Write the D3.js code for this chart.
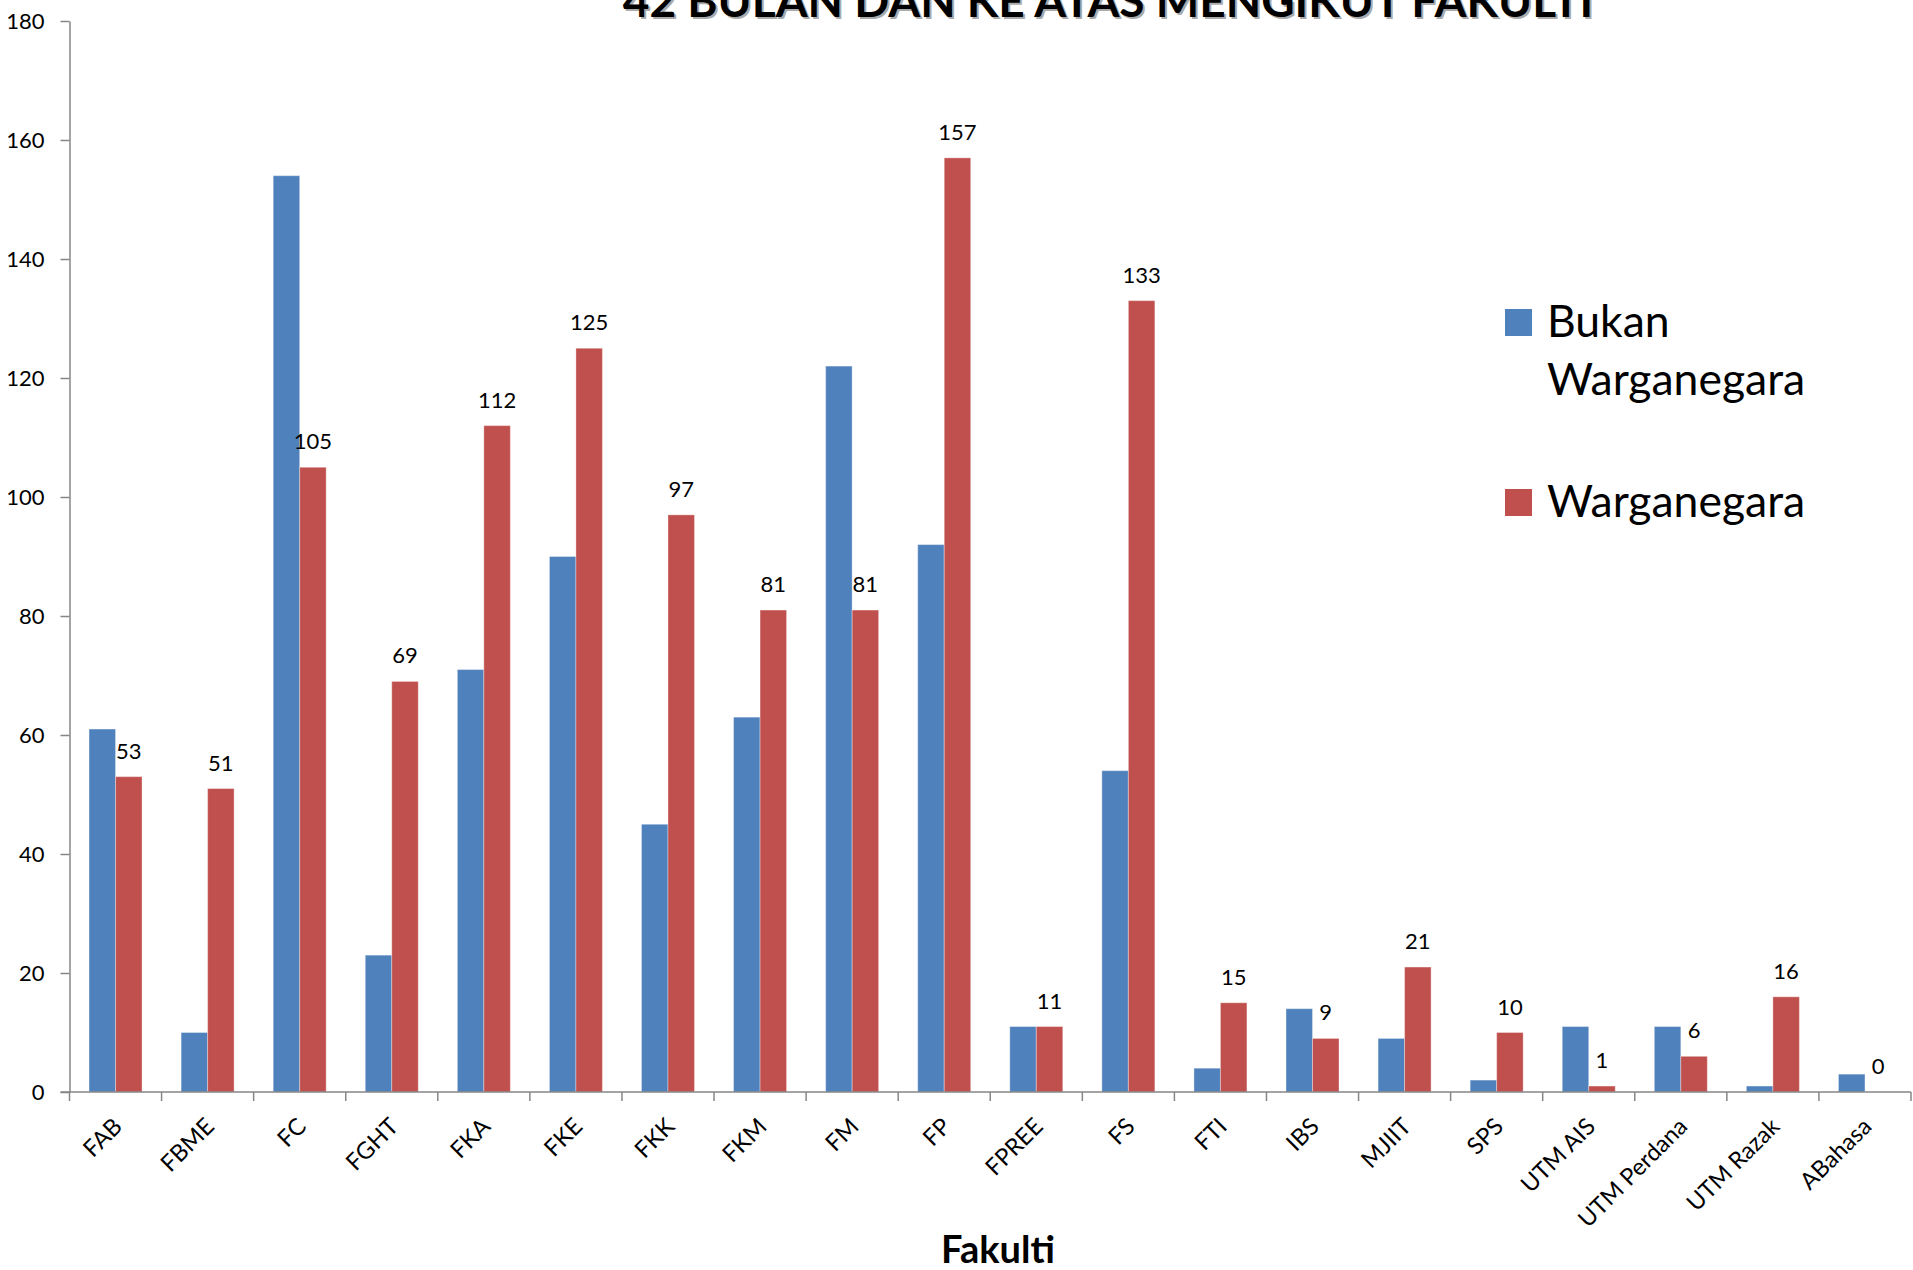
<!DOCTYPE html>
<html>
<head>
<meta charset="utf-8">
<script src="https://cdn.jsdelivr.net/npm/d3@7"></script>
<style>
  html, body { margin: 0; padding: 0; background: #fff; }
  svg { display: block; }
  text { font-family: Lato, "Open Sans", sans-serif; fill: #000; }
</style>
</head>
<body>
<svg id="chart" width="1913" height="1270"></svg>
<script>
var categories = ["FAB", "FBME", "FC", "FGHT", "FKA", "FKE", "FKK", "FKM", "FM", "FP",
                  "FPREE", "FS", "FTI", "IBS", "MJIIT", "SPS", "UTM AIS", "UTM Perdana", "UTM Razak", "ABahasa"];
var seriesNames = ["Bukan Warganegara", "Warganegara"];
var bukanWarganegara = [61, 10, 154, 23, 71, 90, 45, 63, 122, 92, 11, 54, 4, 14, 9, 2, 11, 11, 1, 3];
var warganegara = [53, 51, 105, 69, 112, 125, 97, 81, 81, 157, 11, 133, 15, 9, 21, 10, 1, 6, 16, 0];
var yTicks = [0, 20, 40, 60, 80, 100, 120, 140, 160, 180];
var colors = ["#4F81BD", "#C0504D"];

var svg = d3.select("#chart"),
    plotLeft = 69.5, plotRight = 1911,
    plotTop = 21, plotBottom = 1092;

var x0 = d3.scaleBand()
      .domain(categories)
      .range([plotLeft, plotRight])
      .paddingInner(0.4245)
      .paddingOuter(0.21225);
var x1 = d3.scaleBand()
      .domain(seriesNames)
      .range([0, x0.bandwidth()]);
var y = d3.scaleLinear().domain([0, 180]).range([plotBottom, plotTop]);

var rows = categories.map(function(c, i) {
  return { cat: c, values: [bukanWarganegara[i], warganegara[i]] };
});

// title (its first line sits above the page)
var title = "42 BULAN DAN KE ATAS MENGIKUT FAKULTI";
svg.append("text")
  .attr("x", 1110).attr("y", 19)
  .attr("text-anchor", "middle")
  .attr("font-size", 46).attr("font-weight", "bold")
  .style("fill", "#aaa")
  .text(title);
svg.append("text")
  .attr("x", 1108).attr("y", 17)
  .attr("text-anchor", "middle")
  .attr("font-size", 46).attr("font-weight", "bold")
  .text(title);

// bars
var groups = svg.append("g").selectAll("g")
  .data(rows)
  .enter().append("g")
  .attr("transform", function(d) { return "translate(" + x0(d.cat) + ",0)"; });

groups.selectAll("rect")
  .data(function(d) { return d.values.map(function(v, j) { return { name: seriesNames[j], v: v, j: j }; }); })
  .enter().append("rect")
  .attr("x", function(d) { return x1(d.name); })
  .attr("y", function(d) { return y(d.v); })
  .attr("width", x1.bandwidth())
  .attr("height", function(d) { return plotBottom - y(d.v); })
  .attr("fill", function(d) { return colors[d.j]; })
  .attr("stroke", "rgba(255,255,255,0.35)")
  .attr("stroke-width", 1);

// data labels for Warganegara only
groups.append("text")
  .attr("x", function(d) { return x1("Warganegara") + x1.bandwidth() / 2; })
  .attr("y", function(d) { return y(d.values[1]) - 18; })
  .attr("text-anchor", "middle")
  .attr("font-size", 22)
  .text(function(d) { return d.values[1]; });

// y axis
var yAxis = svg.append("g")
  .attr("transform", "translate(" + plotLeft + ",0)")
  .call(d3.axisLeft(y).tickValues(yTicks).tickSize(9).tickPadding(16).tickSizeOuter(0));
yAxis.selectAll("text").attr("font-size", 22).style("font-family", "Lato, sans-serif");

// x axis, ticks at category boundaries
var step = x0.step();
var xAxis = svg.append("g").attr("class", "xaxis");
xAxis.append("line")
  .attr("x1", plotLeft - 9).attr("x2", plotRight)
  .attr("y1", plotBottom).attr("y2", plotBottom);
xAxis.selectAll("line.tick")
  .data(categories.concat(["_end"]))
  .enter().append("line")
  .attr("class", "tick")
  .attr("x1", function(d, i) { return plotLeft + i * step; })
  .attr("x2", function(d, i) { return plotLeft + i * step; })
  .attr("y1", plotBottom).attr("y2", plotBottom + 9);
xAxis.selectAll("text")
  .data(categories)
  .enter().append("text")
  .attr("text-anchor", "end")
  .attr("font-size", 23.5)
  .attr("transform", function(d) {
    var cx = x0(d) + x0.bandwidth() / 2;
    return "translate(" + (cx + 8) + "," + (plotBottom + 36) + ") rotate(-45)";
  })
  .text(function(d) { return d; });

svg.selectAll(".domain, .tick line, .xaxis line")
  .attr("stroke", "#868686").attr("stroke-width", 1.5);

// x axis title
svg.append("text")
  .attr("x", 998).attr("y", 1263)
  .attr("text-anchor", "middle")
  .attr("font-size", 38).attr("font-weight", "bold")
  .text("Fakulti");

// legend
var legend = svg.append("g");
var legendItems = [
  { lines: ["Bukan", "Warganegara"], color: colors[0], sq: 309, base: 337 },
  { lines: ["Warganegara"], color: colors[1], sq: 489, base: 517 }
];
legendItems.forEach(function(it) {
  legend.append("rect")
    .attr("x", 1505).attr("y", it.sq)
    .attr("width", 27).attr("height", 27)
    .attr("fill", it.color);
  it.lines.forEach(function(t, k) {
    legend.append("text")
      .attr("x", 1547).attr("y", it.base + k * 58)
      .attr("font-size", 44.5)
      .text(t);
  });
});
</script>
</body>
</html>
